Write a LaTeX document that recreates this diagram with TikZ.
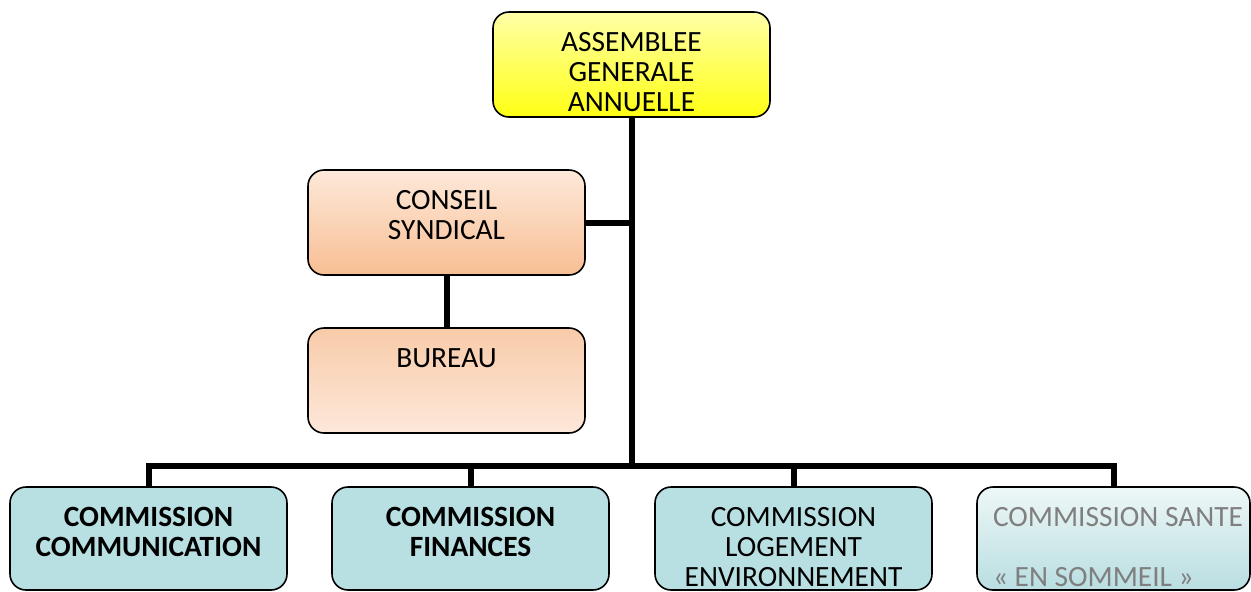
\documentclass[tikz,border=0pt]{standalone}
\usepackage{fontspec}
\setmainfont{Carlito}
\definecolor{agaTop}{HTML}{FFFFA8}
\definecolor{agaBot}{HTML}{FFFF14}
\definecolor{csTop}{HTML}{FDE9DA}
\definecolor{csBot}{HTML}{F8BE93}
\definecolor{buTop}{HTML}{F8CBA9}
\definecolor{buBot}{HTML}{FDE8DA}
\definecolor{comFill}{HTML}{B8DFE2}
\definecolor{saTop}{HTML}{EEF7F7}
\definecolor{saBot}{HTML}{B9DEE1}
\definecolor{sleepText}{HTML}{7F7F7F}
\begin{document}
\begin{tikzpicture}[x=0.5pt,y=-0.5pt,
  box/.style={draw, line width=0.8pt, rounded corners=8pt, minimum width=138.5pt,
    text width=130.5pt, inner xsep=4pt, inner ysep=0pt, align=center,
    text height=19.5pt, text depth=33pt, font=\fontsize{14.7}{15}\selectfont},
  combox/.style={box, fill=comFill, text depth=32pt},
  link/.style={line width=3pt}]
\useasboundingbox (0,0) rectangle (1251,591);
\clip (0,0) rectangle (1251,591);
\node[box, top color=agaTop, bottom color=agaBot] (P_0_0) at (631.5,64.5) {ASSEMBLEE\\GENERALE\\ANNUELLE};
\coordinate (P_0_1) at (631.5,466);
\draw[link] (P_0_0.south) -- (P_0_1);
\node[box, top color=csTop, bottom color=csBot] (P_1_0) at (446.5,222.5) {CONSEIL\\SYNDICAL};
\draw[link] (P_1_0.east) -- (P_1_0.east -| P_0_1);
\node[box, top color=buTop, bottom color=buBot] (P_2_0) at (446.5,380.5) {BUREAU};
\draw[link] (P_1_0) -- (P_2_0);
\node[combox] (P_3_0) at (148.5,538.5) {\bfseries COMMISSION\\COMMUNICATION};
\draw[link] (P_0_1) -| (P_3_0.north);
\node[combox] (P_3_1) at (470.5,538.5) {\bfseries COMMISSION\\FINANCES};
\draw[link] (P_0_1) -| (P_3_1.north);
\node[combox] (P_3_2) at (793.5,538.5) {COMMISSION\\LOGEMENT\\ENVIRONNEMENT};
\draw[link] (P_0_1) -| (P_3_2.north);
\node[combox, top color=saTop, bottom color=saBot, text=sleepText, align=flush left,
  minimum width=136.5pt, text width=124.5pt, inner xsep=6pt] (P_3_3) at (1113.5,538.5) {\hspace*{2pt}\mbox{COMMISSION SANTE}\\[15pt]\hspace*{2pt}\mbox{« EN SOMMEIL »}};
\draw[link] (P_0_1) -| (P_3_3.north);
\end{tikzpicture}
\end{document}
